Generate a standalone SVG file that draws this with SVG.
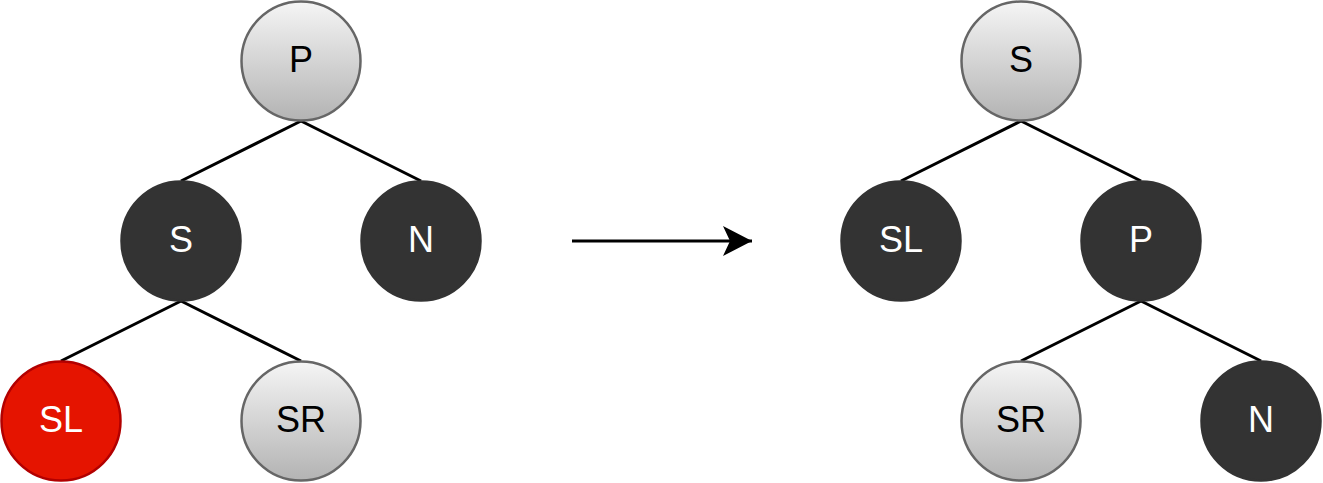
<svg xmlns="http://www.w3.org/2000/svg" width="1323" height="483" viewBox="0 0 1323 483">
  <style>
    .light { fill: url(#grayGrad); stroke: #666666; stroke-width: 2.5; }
    .dark { fill: #333333; stroke: #333333; stroke-width: 2.5; }
    .red { fill: #e51400; stroke: #b20000; stroke-width: 2.5; }
    .lbl { font-family: "Liberation Sans", Arial, sans-serif; font-size: 36px; text-anchor: middle; }
    .lbl-dark { fill: #000000; }
    .lbl-light { fill: #ffffff; }
    .edge { stroke: #000000; stroke-width: 3; fill: none; }
  </style>
  <defs>
    <linearGradient id="grayGrad" x1="0" y1="0" x2="0" y2="1">
      <stop offset="0" stop-color="#f5f5f5"/>
      <stop offset="1" stop-color="#b3b3b3"/>
    </linearGradient>
    <marker id="arrowHead" markerUnits="userSpaceOnUse" markerWidth="34" markerHeight="34" refX="30" refY="16" orient="auto">
      <path d="M1,1 L30,16 L1,31 L8,16 Z" fill="#000000"/>
    </marker>
  </defs>

  <!-- tree edges and the transform arrow -->
  <g id="connectors">
    <line class="edge" x1="301" y1="121" x2="181" y2="181"/>
    <line class="edge" x1="301" y1="121" x2="421" y2="181"/>
    <line class="edge" x1="181" y1="301" x2="61" y2="361"/>
    <line class="edge" x1="181" y1="301" x2="301" y2="361"/>
    <line class="edge" x1="1021" y1="121" x2="901" y2="181"/>
    <line class="edge" x1="1021" y1="121" x2="1141" y2="181"/>
    <line class="edge" x1="1141" y1="301" x2="1021" y2="361"/>
    <line class="edge" x1="1141" y1="301" x2="1261" y2="361"/>
    <line class="edge" x1="572" y1="241" x2="752" y2="241" marker-end="url(#arrowHead)"/>
  </g>

  <!-- tree before rotation -->
  <g id="left-P">
    <circle class="light" cx="301" cy="61" r="59.5"/>
    <text class="lbl lbl-dark" x="301" y="72">P</text>
  </g>
  <g id="left-S">
    <circle class="dark" cx="181" cy="241" r="59.5"/>
    <text class="lbl lbl-light" x="181" y="252">S</text>
  </g>
  <g id="left-N">
    <circle class="dark" cx="421" cy="241" r="59.5"/>
    <text class="lbl lbl-light" x="421" y="252">N</text>
  </g>
  <g id="left-SL">
    <circle class="red" cx="61" cy="421" r="59.5"/>
    <text class="lbl lbl-light" x="61" y="432">SL</text>
  </g>
  <g id="left-SR">
    <circle class="light" cx="301" cy="421" r="59.5"/>
    <text class="lbl lbl-dark" x="301" y="432">SR</text>
  </g>

  <!-- tree after rotation -->
  <g id="right-S">
    <circle class="light" cx="1021" cy="61" r="59.5"/>
    <text class="lbl lbl-dark" x="1021" y="72">S</text>
  </g>
  <g id="right-SL">
    <circle class="dark" cx="901" cy="241" r="59.5"/>
    <text class="lbl lbl-light" x="901" y="252">SL</text>
  </g>
  <g id="right-P">
    <circle class="dark" cx="1141" cy="241" r="59.5"/>
    <text class="lbl lbl-light" x="1141" y="252">P</text>
  </g>
  <g id="right-SR">
    <circle class="light" cx="1021" cy="421" r="59.5"/>
    <text class="lbl lbl-dark" x="1021" y="432">SR</text>
  </g>
  <g id="right-N">
    <circle class="dark" cx="1261" cy="421" r="59.5"/>
    <text class="lbl lbl-light" x="1261" y="432">N</text>
  </g>
</svg>
